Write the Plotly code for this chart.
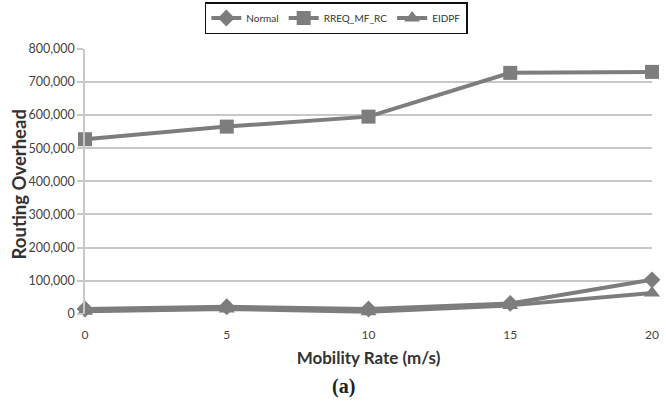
import plotly.graph_objects as go

mobility = [0, 5, 10, 15, 20]
normal = [15000, 22000, 15000, 32000, 103000]
rreq_mf_rc = [527000, 565000, 595000, 727000, 730000]
eidpf = [8000, 15000, 7000, 26000, 63000]
y_ticks = [0, 100000, 200000, 300000, 400000, 500000, 600000, 700000, 800000]
y_tick_text = [f"{v:,}" for v in y_ticks]

line_col = "#7d7d7d"
grid_col = "#c8c8c8"
font_main = "Lato, Open Sans, sans-serif"

fig = go.Figure()
series = [
    ("Normal", normal, "diamond", 13),
    ("RREQ_MF_RC", rreq_mf_rc, "square", 14),
    ("EIDPF", eidpf, "triangle-up", 14),
]
for name, vals, sym, sz in series:
    fig.add_trace(go.Scatter(
        x=mobility, y=vals, name=name, mode="lines+markers",
        line=dict(color=line_col, width=4),
        marker=dict(symbol=sym, size=sz, color=line_col),
        cliponaxis=False,
    ))

fig.update_layout(
    width=666, height=406,
    margin=dict(l=85, r=7, t=45, b=92),
    paper_bgcolor="white", plot_bgcolor="white",
    font=dict(family=font_main, color="#444444", size=12),
    showlegend=True,
    legend=dict(
        orientation="h", xref="container", yref="container",
        x=0.505, xanchor="center", y=0.995, yanchor="top",
        bordercolor="#111111", borderwidth=1.5,
        font=dict(size=10, color="#333333"),
        itemwidth=30, tracegroupgap=0,
    ),
    xaxis=dict(
        range=[0, 20], tickvals=mobility, showgrid=False, zeroline=False,
        showline=False, ticks="outside", ticklen=10, tickcolor="rgba(0,0,0,0)",
        tickfont=dict(size=12, color="#444444"),
        title=dict(text="<b>Mobility Rate (m/s)</b>", font=dict(size=17, color="#333333"), standoff=10),
    ),
    yaxis=dict(
        range=[0, 800000], tickvals=y_ticks, ticktext=y_tick_text,
        showgrid=True, gridcolor=grid_col, gridwidth=1.5, zeroline=False,
        showline=True, linecolor=grid_col, linewidth=1.5,
        ticks="outside", ticklen=6, tickcolor=grid_col, tickwidth=1.5,
        tickfont=dict(size=12.5, color="#444444"),
    ),
    annotations=[
        dict(text="<b>Routing Overhead</b>", textangle=-90, xref="paper", yref="paper",
             x=-0.117, y=(314 - 183) / 269, xanchor="center", yanchor="middle", showarrow=False,
             font=dict(size=18.5, color="#333333", family=font_main)),
        dict(text="<b>(a)</b>", xref="paper", yref="paper",
             x=0.456, y=-(388 - 314) / 269, xanchor="center", yanchor="middle", showarrow=False,
             font=dict(size=20, color="#222222", family="Liberation Serif, serif")),
    ],
)

fig.write_html("out.html")
